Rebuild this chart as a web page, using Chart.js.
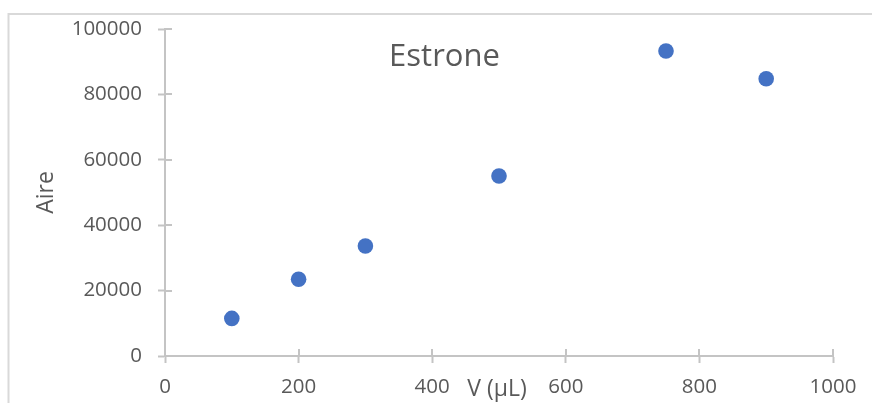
<!DOCTYPE html>
<html>
<head>
<meta charset="utf-8">
<script src="https://cdn.jsdelivr.net/npm/chart.js@4"></script>
<style>
  html, body { margin: 0; padding: 0; background: #ffffff; }
  #wrap { width: 872px; height: 403px; position: relative; }
</style>
</head>
<body>
<div id="wrap"><canvas id="c" width="872" height="403"></canvas></div>
<script>
// ---- Data ----
const chartTitle = "Estrone";
const xAxisTitle = "V (µL)";
const yAxisTitle = "Aire";
const volumes = [100, 200, 300, 500, 750, 900];
const aire = [11500, 23450, 33650, 55050, 93250, 84800];
const xTicks = [0, 200, 400, 600, 800, 1000];
const yTicks = [0, 20000, 40000, 60000, 80000, 100000];

const points = volumes.map((v, i) => ({ x: v, y: aire[i] }));

const textColor = '#595959';
const axisColor = '#c4c4c4';
const fontFamily = '"Open Sans", "Liberation Sans", sans-serif';

const decor = {
  id: 'decor',
  beforeDraw(chart) {
    const ctx = chart.ctx;
    ctx.save();
    ctx.fillStyle = '#ffffff';
    ctx.fillRect(0, 0, chart.width, chart.height);
    ctx.strokeStyle = '#d9d9d9';
    ctx.lineWidth = 2;
    ctx.beginPath();
    ctx.moveTo(8.5, chart.height + 2);
    ctx.lineTo(8.5, 14);
    ctx.lineTo(chart.width + 2, 14);
    ctx.stroke();
    ctx.restore();
  },
  afterDraw(chart) {
    const ctx = chart.ctx;
    const xs = chart.scales.x, ys = chart.scales.y;
    const area = chart.chartArea;
    ctx.save();
    ctx.strokeStyle = axisColor;
    ctx.lineWidth = 2;
    ctx.beginPath();
    xTicks.forEach(t => {
      const px = Math.round(xs.getPixelForValue(t));
      ctx.moveTo(px, area.bottom);
      ctx.lineTo(px, area.bottom - 7);
    });
    yTicks.forEach(t => {
      const py = Math.round(ys.getPixelForValue(t));
      ctx.moveTo(area.left, py);
      ctx.lineTo(area.left + 7, py);
    });
    ctx.stroke();
    // chart title
    ctx.fillStyle = textColor;
    ctx.textAlign = 'center';
    ctx.textBaseline = 'middle';
    ctx.font = '31px ' + fontFamily;
    ctx.fillText(chartTitle, 444.5, 57);
    // x axis title
    ctx.font = '23px ' + fontFamily;
    ctx.fillText(xAxisTitle, (area.left + area.right) / 2 - 2, 389);
    ctx.restore();
  }
};

new Chart(document.getElementById('c'), {
  type: 'scatter',
  data: {
    datasets: [{
      data: points,
      backgroundColor: '#4472C4',
      borderColor: '#4472C4',
      borderWidth: 0,
      pointRadius: 7.8,
      pointHoverRadius: 7.8
    }]
  },
  options: {
    responsive: false,
    animation: false,
    devicePixelRatio: 1,
    layout: { padding: { left: 0, top: 29, right: 39, bottom: 0 } },
    plugins: { legend: { display: false }, tooltip: { enabled: false }, title: { display: false } },
    scales: {
      x: {
        type: 'linear',
        min: 0, max: 1000,
        afterBuildTicks: (s) => { s.ticks = xTicks.map(v => ({ value: v })); },
        afterFit: (s) => { s.height = 47; },
        grid: { display: true, drawOnChartArea: false, drawTicks: true, tickLength: 7, tickColor: axisColor, tickWidth: 2 },
        border: { display: true, color: axisColor, width: 2 },
        ticks: { color: textColor, font: { family: fontFamily, size: 20.5 }, padding: 12, maxRotation: 0, autoSkip: false,
                 callback: (v) => String(v) }
      },
      y: {
        type: 'linear',
        min: 0, max: 100000,
        afterBuildTicks: (s) => { s.ticks = yTicks.map(v => ({ value: v })); },
        afterFit: (s) => { s.width = 165; },
        grid: { display: true, drawOnChartArea: false, drawTicks: true, tickLength: 7, tickColor: axisColor, tickWidth: 2 },
        border: { display: true, color: axisColor, width: 2 },
        ticks: { color: textColor, font: { family: fontFamily, size: 20.5 }, padding: 16, autoSkip: false,
                 callback: (v) => String(v) },
        title: { display: true, text: yAxisTitle, color: textColor, font: { family: fontFamily, size: 23 }, padding: { top: 33, bottom: 0 } }
      }
    }
  },
  plugins: [decor]
});
</script>
</body>
</html>
